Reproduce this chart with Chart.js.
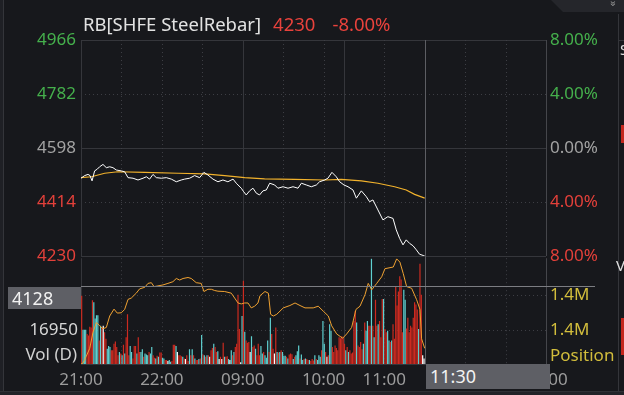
<!DOCTYPE html>
<html>
<head>
<meta charset="utf-8">
<script src="https://cdn.jsdelivr.net/npm/chart.js@4.4.1/dist/chart.umd.min.js"></script>
<style>
html,body{margin:0;padding:0;background:#17181c;overflow:hidden}
#wrap{position:relative;width:624px;height:395px;background:#17181c;font-family:"Noto Sans",sans-serif;overflow:hidden}
#cP,#cV{position:absolute;left:0}
#cP{top:0;z-index:2}
#cV{top:244px;z-index:1}
.t{position:absolute;white-space:nowrap;line-height:1;z-index:3}
.box{position:absolute;background:#5e5f65;color:#f2f2f2;z-index:4;box-sizing:border-box;white-space:nowrap}
</style>
</head>
<body>
<div id="wrap">
  <canvas id="cV" width="612" height="148"></canvas>
  <canvas id="cP" width="612" height="372"></canvas>
  <div class="t" id="title" style="left:83px;top:15px;font-size:18.5px;color:#e2e2e2"></div>
  <div class="t" style="right:547px;top:345px;font-size:17px;color:#d0d0d0">Vol (D)</div>
  <div class="t" style="left:550px;top:346px;font-size:17px;color:#d2bd3c">Position</div>
  <div class="box" id="crossY" style="left:8px;width:73px;height:22px;font-size:18px;line-height:22px;padding-left:4px"></div>
  <div class="box" id="crossX" style="top:364px;width:124px;height:25px;font-size:18px;line-height:25px;padding-left:4px"></div>
  <!-- frame pieces -->
  <div style="position:absolute;left:0;top:0;width:3px;height:395px;background:#1f2025"></div>
  <div style="position:absolute;left:3px;top:0;width:1px;height:392px;background:#34353a"></div>
  <div style="position:absolute;left:0;top:391px;width:624px;height:4px;background:#222328;border-top:1px solid #303136;z-index:5"></div>
  <div style="position:absolute;left:551px;top:0;width:73px;height:12px;background:#25262b;clip-path:polygon(0 0,100% 0,100% 100%,12px 100%)"></div>
  <div class="t" style="left:612px;top:-2px;font-size:11px;color:#9a9a9a;transform:rotate(90deg)">»</div>
  <div style="position:absolute;left:618px;top:14px;width:1px;height:377px;background:#34353a"></div>
  <div style="position:absolute;left:618px;top:40px;width:6px;height:1px;background:#34353a"></div>
  <div class="t" style="left:620px;top:42px;font-size:15px;color:#e0e0e0">S</div>
  <div style="position:absolute;left:621px;top:125px;width:3px;height:18px;background:#c4271e"></div>
  <div class="t" style="left:616px;top:258px;font-size:15px;color:#e0e0e0">V</div>
  <div style="position:absolute;left:621px;top:318px;width:3px;height:37px;background:#c4271e"></div>
</div>
<script>
// ---------- data ----------
const instrument = 'RB[SHFE SteelRebar]';
const prevSettle = 4598;
const priceTicks = [4230, 4414, 4598, 4782, 4966];
const pctTicks = [-8, -4, 0, 4, 8];
const timeTickMinutes = [0, 60, 120, 180, 225, 285, 345];
const timeTickLabels = ['21:00', '22:00', '09:00', '10:00', '11:00', '14:00', '15:00'];
const sessionMinutes = 345;
const crossPrice = 4128;
const crossMinute = 255;
const crossLabel = '11:30';

const priceMinutes = [0,2.7,5.2,6.7,8.2,10.1,12.1,13.8,16.3,18.8,21.3,23.7,26.2,29.9,32.4,34.9,38.6,42.3,46,48.5,50.9,53.4,55.9,59.6,63.3,67,70.7,74.4,76.9,80.6,84.3,88,91.2,94.2,97.9,101.6,105.3,109,112.8,115.2,118.9,120.7,122.6,125.1,127.6,130.1,132.5,135,137.5,140,143.7,146.1,149.9,153.6,157.3,161,163.5,167.2,170.9,174.6,177,180.8,183.2,186.2,189.4,191.9,195.1,198.1,201.8,204.3,208,211.7,214.1,216.6,220.3,224,227.7,231.5,233.9,236.4,238.9,241.3,243.8,246.3,248.8,251.2,254.4,255];
const priceValues = [4495,4504,4508,4504,4486,4520,4526,4534,4542,4531,4534,4531,4523,4520,4517,4497,4495,4489,4495,4500,4492,4508,4497,4495,4497,4492,4483,4489,4492,4495,4504,4497,4515,4506,4492,4483,4489,4483,4492,4478,4461,4449,4438,4452,4461,4444,4438,4452,4455,4478,4472,4461,4466,4461,4466,4461,4478,4472,4466,4472,4483,4489,4495,4515,4500,4483,4472,4466,4455,4427,4452,4432,4415,4421,4387,4353,4364,4358,4319,4290,4268,4285,4273,4265,4251,4236,4231,4230];

const avgMinutes = [0,7.7,17.6,27.4,47.2,72,91.7,106.6,121.4,136.2,158.5,180.8,193.1,208,220.3,232.7,241.3,247.5,255];
const avgValues = [4497,4500,4512,4517,4515,4512,4510,4504,4497,4493,4491,4489,4491,4486,4478,4466,4455,4440,4427];

const posMinutes = [0,1.5,3.7,6.5,8.9,11.4,13.9,16.3,18.8,21.3,24.5,26.9,29.9,32.4,34.9,37.3,41,43.5,47.3,49.7,52.2,54.2,57.1,60.8,64.5,68.2,70.7,73.2,75.7,79.4,81.8,85.5,89.2,91.2,94.2,96.7,99.2,101.6,106.6,111.5,114,116.5,118.9,121.4,123.9,126.3,128.8,131.3,132.8,136.5,139,140.7,142.7,145.2,150.1,155,158.8,162.5,166.2,172.3,176,179.7,183.5,186,189.7,194.1,197.1,200.8,204,207,210.7,213.1,215.7,219.4,223.1,225.5,231.7,234.2,236.6,239.1,241.6,245.3,249,251.5,252.7,255];
const posValues = [1376000,1376200,1377490,1379260,1382580,1384620,1383940,1383330,1383600,1385980,1387410,1386590,1386650,1387350,1389440,1389710,1390730,1391620,1391950,1392760,1392910,1392090,1392240,1392440,1392760,1393110,1393780,1393460,1393780,1393990,1393780,1392910,1392760,1391070,1391540,1391540,1391280,1391140,1391070,1390730,1389710,1388690,1388490,1388690,1388690,1387670,1388020,1388690,1390200,1391070,1390730,1386330,1385980,1386330,1387670,1388160,1388690,1388160,1387670,1387670,1388020,1387000,1385980,1383940,1382250,1381360,1382250,1383600,1387350,1388020,1390400,1392760,1391420,1392760,1394130,1395820,1396170,1397860,1397190,1394800,1392090,1391750,1389380,1387350,1381240,1379260];

// one bar per minute, 21:00 .. 11:29
const volumes = [33750,16950,16950,16950,14860,14050,18400,18080,31480,30510,22440,24050,24050,11620,18890,18080,18890,15660,12430,7590,8880,8390,6780,6780,10010,11140,8390,4360,5970,5170,4360,9520,5170,13240,24540,4360,8880,5970,2740,8880,8880,5170,13240,5970,5970,7260,3550,5170,4680,4360,5970,5170,8390,4360,3070,2740,4040,3550,5650,5650,3070,2740,1940,1940,
1450,1940,1130,1450,9520,9520,8880,5970,4360,4360,3870,3550,2740,2420,4360,1450,7260,4360,7260,4360,2740,1940,1940,2420,2740,14370,4680,4360,3550,4360,4360,3550,6780,7910,10010,8390,5970,6300,2420,3550,2420,10490,3550,3550,3870,2420,1940,6780,4360,5970,8390,10010,34220,17270,810,23730,
41170,15980,11620,10490,10820,5970,13720,8390,9200,7590,4360,10010,4360,8880,5170,5970,4360,3070,11620,5970,22920,14860,7590,5170,18080,5970,5650,5970,6780,5970,4040,4040,3550,2740,4680,5170,4840,2420,3550,4360,6300,9200,2740,4680,1940,2420,2740,2420,1940,1940,1450,2420,1780,4360,2420,1940,4360,3550,6780,21310,10010,5970,
3550,4360,19690,16470,8390,5970,9200,7910,6780,13240,12750,13720,13240,10010,6780,8390,5970,6780,5170,5650,21310,26150,20500,9200,8390,10820,7260,10010,20500,16470,21310,18890,18890,51990,18890,13240,31800,18890,19690,21310,13240,32120,32120,17270,15660,16470,11620,10820,11620,19690,12430,38260,28900,35840,43420,41810,15660,36650,31800,17600,22920,15660,18890,18080,22920,30510,29380,26960,17270,49560,34220,4360,2740];
// +1 up bar, -1 down bar, 0 unchanged
const volDir = [1,-1,-1,-1,1,1,1,1,1,-1,-1,-1,-1,1,-1,1,0,1,1,-1,-1,-1,1,1,1,1,1,1,-1,1,-1,1,-1,1,1,1,-1,-1,1,1,1,-1,1,1,-1,-1,1,-1,-1,-1,1,-1,-1,1,1,-1,1,-1,1,1,-1,-1,1,1,
0,-1,-1,1,1,1,-1,0,1,1,1,-1,1,0,1,1,-1,1,-1,1,-1,1,1,-1,1,-1,1,-1,1,-1,1,0,1,1,-1,1,1,-1,0,1,0,1,-1,1,1,-1,0,-1,1,-1,1,1,1,1,0,-1,
1,-1,1,1,1,0,-1,1,1,-1,1,1,1,-1,-1,1,-1,-1,-1,1,-1,1,1,0,1,-1,1,-1,1,-1,-1,-1,1,-1,1,1,1,-1,1,-1,-1,-1,1,-1,-1,1,-1,1,1,-1,1,1,1,-1,1,-1,-1,-1,1,-1,-1,1,
0,1,-1,-1,1,1,1,1,1,1,1,1,1,1,-1,1,-1,1,1,1,1,1,-1,1,1,1,1,-1,1,-1,-1,1,1,-1,1,-1,1,1,-1,1,1,1,-1,1,1,-1,-1,1,-1,1,1,1,1,1,1,1,1,-1,-1,1,1,1,1,1,1,1,1,1,-1,1,1,0,0];

const volAxisMax = 52300;
const volTicks = [16950];
const posAxisMin = 1376000, posAxisMax = 1398000;

// ---------- styles ----------
const FONT = '"Noto Sans", sans-serif';
Chart.defaults.font.family = FONT;
Chart.defaults.font.size = 17;
const GRID = '#35363b', GRID_DOT = '#3d3e44', CROSS = '#7c7d82', CROSS_V = '#5d5e63';
const GREEN = '#45b04c', RED = '#e3403a', GRAY = '#a3a3a3', YEL = '#d2bd3c';

const lastPrice = priceValues[priceValues.length - 1];
const chg = (lastPrice - prevSettle) / prevSettle * 100;
document.getElementById('title').innerHTML = instrument +
  '<span style="color:#e8423c;margin-left:12px">' + lastPrice + '</span>' +
  '<span style="color:#e8423c;margin-left:17px">' + chg.toFixed(2) + '%</span>';

function xy(xs, ys) { return xs.map((x, i) => ({x: x, y: ys[i]})); }

// vertical session / half-hour lines: [minute, solid?]
const vLines = [[0,1],[30,0],[60,0],[90,0],[120,1],[150,0],[180,0],[195,1],[225,0],[285,0],[315,0],[345,1]];

function line(ctx, x1, y1, x2, y2, color, dash) {
  ctx.beginPath();
  ctx.strokeStyle = color; ctx.lineWidth = 1;
  ctx.setLineDash(dash ? [1, 3] : []);
  ctx.moveTo(x1, y1); ctx.lineTo(x2, y2); ctx.stroke();
}
function paneGrid(yId, hLines) {
  return {
    id: 'paneGrid',
    beforeDatasetsDraw(chart) {
      const {ctx, chartArea: a, scales} = chart;
      const sx = scales.x, sy = scales[yId];
      ctx.save();
      hLines.forEach(([v, solid]) => {
        const py = Math.round(sy.getPixelForValue(v)) + 0.5;
        line(ctx, a.left, py, a.right, py, solid ? GRID : GRID_DOT, !solid);
      });
      vLines.forEach(([m, solid]) => {
        const px = Math.round(sx.getPixelForValue(m)) + 0.5;
        line(ctx, px, a.top, px, a.bottom, solid ? (m === 345 ? '#45464b' : GRID) : GRID_DOT, !solid);
      });
      ctx.restore();
    }
  };
}
const crossPlugin = {
  id: 'cross',
  afterDatasetsDraw(chart) {
    const {ctx, chartArea: a, scales} = chart;
    const px = Math.round(scales.x.getPixelForValue(crossMinute)) + 0.5;
    const py = Math.round(scales.yP.getPixelForValue(crossPrice)) + 0.5;
    ctx.save();
    line(ctx, px, a.top, px, 364, CROSS_V, false);
    line(ctx, a.left, py, 595, py, CROSS, false);
    ctx.restore();
    const b1 = document.getElementById('crossY');
    b1.style.top = (py + 0.5) + 'px';
    b1.textContent = crossPrice;
    const b2 = document.getElementById('crossX');
    b2.style.left = Math.round(px) + 'px';
    b2.textContent = crossLabel;
  }
};

const fixW = (w) => (s) => { s.width = w; };
const noGrid = {display: false, drawTicks: false, tickLength: 0};
const xScale = (show) => ({
  type: 'linear', min: 0, max: sessionMinutes, display: show, offset: false,
  grid: Object.assign({offset: false}, noGrid), border: {display: false},
  afterBuildTicks: (s) => { s.ticks = timeTickMinutes.map(v => ({value: v})); },
  afterFit: (s) => { if (show) s.height = 28; },
  ticks: {
    autoSkip: false, maxRotation: 0, padding: 6, color: '#9c9c9c',
    callback: (v) => timeTickLabels[timeTickMinutes.indexOf(v)]
  }
});
const common = {
  responsive: false, animation: false, events: [],
  plugins: {legend: {display: false}, tooltip: {enabled: false}},
};

// ---------- price pane ----------
new Chart(document.getElementById('cP'), {
  type: 'line',
  data: {datasets: [
    {data: xy(priceMinutes, priceValues), yAxisID: 'yP', borderColor: '#ffffff', borderWidth: 1, pointRadius: 0, tension: 0},
    {data: xy(avgMinutes, avgValues), yAxisID: 'yP', borderColor: '#f2b22c', borderWidth: 1.2, pointRadius: 0, tension: 0},
    {data: [], yAxisID: 'yPct'}
  ]},
  options: Object.assign({}, common, {
    layout: {padding: {top: 40, bottom: 116, left: 0, right: 0}},
    scales: {
      x: xScale(false),
      yP: {
        position: 'left', min: priceTicks[0], max: priceTicks[priceTicks.length - 1],
        grid: noGrid, border: {display: false}, afterFit: fixW(81),
        afterBuildTicks: (s) => { s.ticks = priceTicks.map(v => ({value: v})); },
        ticks: {padding: 5, callback: (v) => String(v),
          color: (c) => c.tick.value > prevSettle ? GREEN : (c.tick.value < prevSettle ? RED : GRAY)}
      },
      yPct: {
        position: 'right', min: pctTicks[0], max: pctTicks[pctTicks.length - 1],
        grid: noGrid, border: {display: false}, afterFit: fixW(66),
        afterBuildTicks: (s) => { s.ticks = pctTicks.map(v => ({value: v})); },
        ticks: {padding: 4, color: (c) => c.tick.value > 0 ? GREEN : (c.tick.value < 0 ? RED : GRAY),
          callback: (v) => Math.abs(v).toFixed(2) + '%'}
      }
    }
  }),
  plugins: [paneGrid('yP', [[4966,1],[4782,0],[4598,1],[4414,0],[4230,1]]), crossPlugin]
});

// ---------- volume / position pane ----------
const barColors = volDir.map(d => d > 0 ? '#cc2a20' : (d < 0 ? '#5fd0d0' : '#ffffff'));
new Chart(document.getElementById('cV'), {
  type: 'bar',
  data: {datasets: [
    {type: 'line', data: xy(posMinutes, posValues), yAxisID: 'yPos', borderColor: '#f0a232', borderWidth: 1, pointRadius: 0, tension: 0, order: 0},
    {type: 'bar', data: volumes.map((v, i) => ({x: i + 0.5, y: v})), yAxisID: 'yV', backgroundColor: barColors, barThickness: 1.2, inflateAmount: 0, order: 1, grouped: false}
  ]},
  options: Object.assign({}, common, {
    layout: {padding: {top: 12, bottom: 0, left: 0, right: 0}},
    scales: {
      x: xScale(true),
      yV: {
        position: 'left', min: 0, max: volAxisMax,
        grid: noGrid, border: {display: false}, afterFit: fixW(81),
        afterBuildTicks: (s) => { s.ticks = volTicks.map(v => ({value: v})); },
        ticks: {padding: 3, color: '#d6d6d6', callback: (v) => String(v)}
      },
      yPos: {
        position: 'right', min: posAxisMin, max: posAxisMax,
        grid: noGrid, border: {display: false}, afterFit: fixW(66),
        afterBuildTicks: (s) => { s.ticks = [1, 2].map(k => ({value: posAxisMin + (posAxisMax - posAxisMin) * volTicks[0] * k / volAxisMax})); },
        ticks: {padding: 4, color: YEL, callback: (v) => (v / 1e6).toFixed(1) + 'M'}
      }
    }
  }),
  plugins: [paneGrid('yV', [[volTicks[0] * 2, 0], [volTicks[0], 0], [0, 1]])]
});
</script>
</body>
</html>
